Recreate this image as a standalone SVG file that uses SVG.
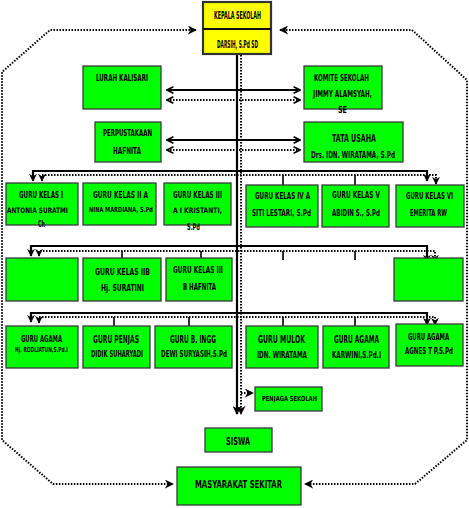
<svg xmlns="http://www.w3.org/2000/svg" width="469" height="508" viewBox="0 0 469 508">
<style>
.bx{fill:#00ff00;stroke:#3a3a3a;stroke-width:1.3}
.t{font-family:"DejaVu Sans Condensed","Liberation Sans",sans-serif;font-weight:bold;text-anchor:middle;dominant-baseline:central;fill:#000;font-size:8px}
.l{font-size:10px}
.s{fill:none;stroke:#000;stroke-width:2.2}
.d{fill:none;stroke:#000;stroke-width:2;stroke-dasharray:1.5 1.5}
.k{fill:none;stroke:#000;stroke-width:1.6}
</style>
<defs>
<marker id="chev" viewBox="0 0 10 10" refX="9" refY="5" markerWidth="8" markerHeight="9" markerUnits="userSpaceOnUse" orient="auto-start-reverse"><path d="M1,1 L9,5 L1,9" fill="none" stroke="#000" stroke-width="2" stroke-dasharray="none"/></marker>
<marker id="tri" viewBox="0 0 10 10" refX="9" refY="5" markerWidth="9" markerHeight="9" markerUnits="userSpaceOnUse" orient="auto-start-reverse"><path d="M0,0 L10,5 L0,10 L3,5 Z" fill="#000" stroke="none"/></marker>
<marker id="dn" viewBox="0 0 10 10" refX="9" refY="5" markerWidth="8" markerHeight="8" markerUnits="userSpaceOnUse" orient="auto-start-reverse"><path d="M0,0 L10,5 L0,10 L3,5 Z" fill="#000" stroke="none"/></marker>
</defs>

<g id="connectors">
<path class="d" d="M196,30 L50,30 L2,72 L2,440 L53,484 L173,484" marker-start="url(#tri)" marker-end="url(#tri)"/>
<path class="d" d="M280,30 L412,30 L467,80 L467,440 L415,484 L305,484" marker-start="url(#tri)" marker-end="url(#tri)"/>
<path class="s" d="M237,55 L237,414" marker-end="url(#tri)"/>
<path class="d" d="M241,55 L241,414" marker-end="url(#tri)"/>
<path class="d" d="M241,393 L253,393" marker-end="url(#tri)"/>
<path class="s" d="M167,90 L300,90" marker-start="url(#chev)" marker-end="url(#chev)"/>
<path class="d" d="M167,100 L300,100" marker-start="url(#chev)" marker-end="url(#chev)"/>
<path class="s" d="M167,140 L300,140" marker-start="url(#chev)" marker-end="url(#chev)"/>
<path class="d" d="M167,150 L300,150" marker-start="url(#chev)" marker-end="url(#chev)"/>
<path class="s" d="M33,181 L33,171 L427,171 L427,181" marker-start="url(#dn)" marker-end="url(#dn)"/>
<path class="d" d="M42,181 L42,175 L436,175 L436,184" marker-start="url(#dn)" marker-end="url(#dn)"/>
<path class="s" d="M31,256 L31,246 L427,246 L427,262" marker-start="url(#dn)" marker-end="url(#dn)"/>
<path class="d" d="M39,256 L39,251 L435,251 L435,262" marker-start="url(#dn)" marker-end="url(#dn)"/>
<path class="s" d="M31,322 L31,313 L427,313 L427,325" marker-start="url(#dn)" marker-end="url(#dn)"/>
<path class="d" d="M39,323 L39,317 L435,317 L435,325" marker-start="url(#dn)" marker-end="url(#dn)"/>
<path class="k" d="M283,175 V185 M355,175 V185 M122,251 V258 M201,251 V258 M283,251 V260 M355,251 V260 M114,317 V326 M189,317 V326 M283,317 V326 M355,317 V326"/>
</g>

<g id="kepala">
<rect x="203" y="2" width="68" height="52" fill="#ffff00" stroke="#333" stroke-width="2.2"/>
<line x1="203" y1="29" x2="271" y2="29" stroke="#111" stroke-width="2"/>
<text class="t l" x="237.5" y="15" textLength="47" lengthAdjust="spacingAndGlyphs">KEPALA SEKOLAH</text>
<text class="t l" x="237.5" y="44" textLength="41" lengthAdjust="spacingAndGlyphs">DARSIH, S.Pd SD</text>
</g>
<g id="lurah"><rect class="bx" x="83" y="66" width="78" height="43"/>
<text class="t" x="122" y="78" textLength="52" lengthAdjust="spacingAndGlyphs">LURAH KALISARI</text></g>
<g id="komite"><rect class="bx" x="304" y="66" width="78" height="43"/>
<text class="t" x="341.5" y="78" textLength="55" lengthAdjust="spacingAndGlyphs">KOMITE SEKOLAH</text>
<text class="t" x="342.5" y="94" textLength="59" lengthAdjust="spacingAndGlyphs">JIMMY ALAMSYAH,</text>
<text class="t" x="342.5" y="110" textLength="9" lengthAdjust="spacingAndGlyphs">SE</text></g>
<g id="perpus"><rect class="bx" x="95" y="122" width="66" height="40"/>
<text class="t" x="127.5" y="133" textLength="49" lengthAdjust="spacingAndGlyphs">PERPUSTAKAAN</text>
<text class="t" x="127" y="151" textLength="28" lengthAdjust="spacingAndGlyphs">HAFNITA</text></g>
<g id="tatausaha"><rect class="bx" x="304" y="122" width="99" height="40"/>
<text class="t l" x="354" y="138" textLength="44" lengthAdjust="spacingAndGlyphs">TATA USAHA</text>
<text class="t" x="353" y="155" textLength="84" lengthAdjust="spacingAndGlyphs" style="font-size:9px">Drs. IDN. WIRATAMA, S.Pd</text></g>

<g id="kelas1"><rect class="bx" x="6" y="183" width="72" height="42"/>
<text class="t" x="41" y="195" textLength="44" lengthAdjust="spacingAndGlyphs">GURU KELAS I</text>
<text class="t" x="37.5" y="210" textLength="61" lengthAdjust="spacingAndGlyphs" style="font-size:7.5px">ANTONIA SURATMI</text>
<text class="t" x="41.5" y="224" textLength="7" lengthAdjust="spacingAndGlyphs">Ch</text></g>
<g id="kelas2a"><rect class="bx" x="83" y="183" width="73" height="42"/>
<text class="t" x="120.5" y="195" textLength="55" lengthAdjust="spacingAndGlyphs">GURU KELAS II A</text>
<text class="t" x="121" y="210" textLength="64" lengthAdjust="spacingAndGlyphs" style="font-size:7px">NINA MARDIANA, S.Pd</text></g>
<g id="kelas3a"><rect class="bx" x="164" y="183" width="67" height="42"/>
<text class="t" x="197.5" y="195" textLength="49" lengthAdjust="spacingAndGlyphs">GURU KELAS III</text>
<text class="t" x="197.5" y="210" textLength="49" lengthAdjust="spacingAndGlyphs" style="font-size:7.5px">A I KRISTANTI,</text>
<text class="t" x="193.5" y="227" textLength="13" lengthAdjust="spacingAndGlyphs">S.Pd</text></g>
<g id="kelas4a"><rect class="bx" x="246" y="185" width="72" height="42"/>
<text class="t" x="282.5" y="196" textLength="55" lengthAdjust="spacingAndGlyphs">GURU KELAS IV A</text>
<text class="t" x="281.5" y="213" textLength="59" lengthAdjust="spacingAndGlyphs">SITI LESTARI, S.Pd</text></g>
<g id="kelas5"><rect class="bx" x="322" y="185" width="67" height="42"/>
<text class="t" x="356" y="195" textLength="48" lengthAdjust="spacingAndGlyphs">GURU KELAS  V</text>
<text class="t" x="356" y="213" textLength="48" lengthAdjust="spacingAndGlyphs">ABIDIN S., S.Pd</text></g>
<g id="kelas6"><rect class="bx" x="396" y="185" width="68" height="42"/>
<text class="t" x="429.5" y="196" textLength="47" lengthAdjust="spacingAndGlyphs">GURU KELAS VI</text>
<text class="t" x="428.5" y="213" textLength="37" lengthAdjust="spacingAndGlyphs">EMERITA RW</text></g>

<g id="kosong1"><rect class="bx" x="6" y="258" width="72" height="43"/></g>
<g id="kelas2b"><rect class="bx" x="83" y="258" width="78" height="43"/>
<text class="t" x="122.5" y="272" textLength="55" lengthAdjust="spacingAndGlyphs" style="font-size:9px">GURU KELAS IIB</text>
<text class="t" x="122.5" y="288" textLength="43" lengthAdjust="spacingAndGlyphs" style="font-size:9px">Hj. SURATINI</text></g>
<g id="kelas3b"><rect class="bx" x="166" y="258" width="66" height="43"/>
<text class="t" x="198" y="270" textLength="50" lengthAdjust="spacingAndGlyphs">GURU KELAS III</text>
<text class="t" x="199.5" y="287" textLength="33" lengthAdjust="spacingAndGlyphs">B HAFNITA</text></g>
<g id="kosong2"><rect class="bx" x="394" y="258" width="69" height="43"/></g>

<g id="agama1"><rect class="bx" x="6" y="326" width="72" height="42"/>
<text class="t" x="41.5" y="339" textLength="41" lengthAdjust="spacingAndGlyphs">GURU AGAMA</text>
<text class="t" x="41.5" y="350" textLength="53" lengthAdjust="spacingAndGlyphs" style="font-size:7px">Hj. RODLIATUN,S.Pd.I</text></g>
<g id="penjas"><rect class="bx" x="83" y="326" width="67" height="42"/>
<text class="t l" x="116" y="339" textLength="46" lengthAdjust="spacingAndGlyphs">GURU PENJAS</text>
<text class="t" x="117" y="354" textLength="52" lengthAdjust="spacingAndGlyphs">DIDIK SUHARYADI</text></g>
<g id="inggris"><rect class="bx" x="155" y="326" width="77" height="42"/>
<text class="t l" x="193" y="339" textLength="46" lengthAdjust="spacingAndGlyphs">GURU B.  INGG</text>
<text class="t" x="194" y="354" textLength="66" lengthAdjust="spacingAndGlyphs">DEWI SURYASIH,S.Pd</text></g>
<g id="mulok"><rect class="bx" x="246" y="326" width="72" height="42"/>
<text class="t l" x="281.5" y="339" textLength="47" lengthAdjust="spacingAndGlyphs">GURU MULOK</text>
<text class="t" x="282" y="355" textLength="50" lengthAdjust="spacingAndGlyphs">IDN. WIRATAMA</text></g>
<g id="agama2"><rect class="bx" x="323" y="326" width="66" height="42"/>
<text class="t l" x="356.5" y="339" textLength="45" lengthAdjust="spacingAndGlyphs">GURU AGAMA</text>
<text class="t" x="356.5" y="355" textLength="49" lengthAdjust="spacingAndGlyphs">KARWINI,S.Pd.I</text></g>
<g id="agama3"><rect class="bx" x="396" y="324" width="67" height="42"/>
<text class="t" x="428.5" y="337" textLength="41" lengthAdjust="spacingAndGlyphs">GURU AGAMA</text>
<text class="t" x="429" y="351" textLength="48" lengthAdjust="spacingAndGlyphs">AGNES T P,S.Pd</text></g>

<g id="penjaga"><rect class="bx" x="255" y="387" width="67" height="24"/>
<text class="t" x="289.5" y="399" textLength="55" lengthAdjust="spacingAndGlyphs" style="font-size:7px">PENJAGA SEKOLAH</text></g>
<g id="siswa"><rect class="bx" x="205" y="428" width="67" height="24"/>
<text class="t l" x="238" y="441" textLength="24" lengthAdjust="spacingAndGlyphs">SISWA</text></g>
<g id="masyarakat"><rect class="bx" x="177" y="467" width="124" height="38"/>
<text class="t l" x="238.5" y="484" textLength="87" lengthAdjust="spacingAndGlyphs">MASYARAKAT SEKITAR</text></g>
</svg>
